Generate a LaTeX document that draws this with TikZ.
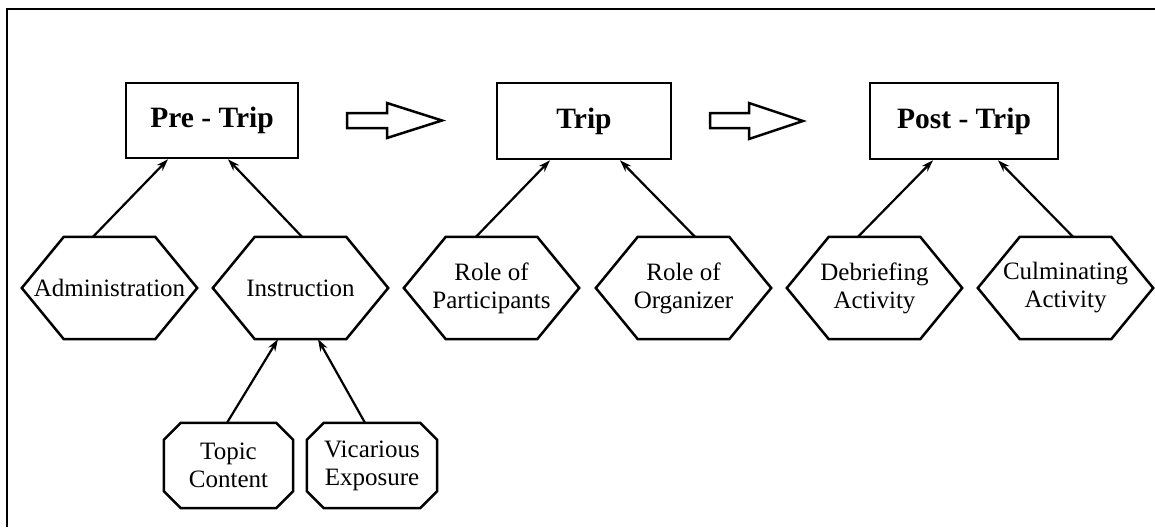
\documentclass[tikz,border=0pt]{standalone}
\usepackage{fontspec}
\setmainfont{Liberation Serif}
\usetikzlibrary{arrows.meta,calc}
\begin{document}
\begin{tikzpicture}[x=1pt,y=-1pt,
  titlebox/.style={draw, line width=2.6pt, inner sep=0pt, font=\fontsize{29.5}{32}\selectfont\bfseries},
  hexnode/.style={inner sep=0pt, minimum width=175pt, minimum height=102pt, align=center, font=\fontsize{25}{28}\selectfont},
  octnode/.style={inner sep=0pt, minimum width=129pt, minimum height=85pt, align=center, font=\fontsize{25}{28}\selectfont},
  shapeline/.style={line width=2.5pt, line join=miter},
  conn/.style={line width=2.2pt, -{Stealth[length=12pt,width=8pt]}},
  blockarrow/.style={line width=2.5pt, line join=miter},
  frameline/.style={line width=2pt}
]
\useasboundingbox (0,0) rectangle (1155,527);
% frame
\draw[frameline] (1155,9.5) -- (7,9.5) -- (7,527);

% title boxes
\node[titlebox, minimum width=172pt, minimum height=75pt] (pre) at (212,120.5) {Pre - Trip};
\node[titlebox, minimum width=174pt, minimum height=76pt] (trip) at (584,121) {Trip};
\node[titlebox, minimum width=188pt, minimum height=76pt] (post) at (964,121) {Post - Trip};

% block arrows
\draw[blockarrow] (347,113) -- (387,113) -- (387,103) -- (442,120.5) -- (387,138) -- (387,128) -- (347,128) -- cycle;
\draw[blockarrow] (710,113) -- (749,113) -- (749,103) -- (803,121) -- (749,139) -- (749,128) -- (710,128) -- cycle;

% hexagon nodes
\node[hexnode] (adm) at (109.5,288) {Administration};
\node[hexnode] (ins) at (300.5,288) {Instruction};
\node[hexnode] (par) at (491.5,288) {\raisebox{-3pt}{\parbox{175pt}{\centering Role of\\Participants}}};
\node[hexnode] (org) at (683.5,288) {\raisebox{-3pt}{\parbox{175pt}{\centering Role of\\Organizer}}};
\node[hexnode] (deb) at (874.5,288) {\raisebox{-3pt}{\parbox{175pt}{\centering Debriefing\\Activity}}};
\node[hexnode] (cul) at (1065.5,288) {\raisebox{-3pt}{\parbox{175pt}{\centering Culminating\\Activity}}};
\foreach \n in {adm,ins,par,org,deb,cul}{
  \draw[shapeline] (\n.west) -- ([xshift=42pt]\n.north west) -- ([xshift=-42pt]\n.north east)
    -- (\n.east) -- ([xshift=-42pt]\n.south east) -- ([xshift=42pt]\n.south west) -- cycle;
}

% octagon nodes
\node[octnode] (top) at (228.5,465.5) {Topic\\Content};
\node[octnode, minimum width=130pt] (vic) at (372,465.5) {Vicarious\\Exposure};
\foreach \n in {top,vic}{
  \draw[shapeline] ([xshift=17pt]\n.north west) -- ([xshift=-17pt]\n.north east)
    -- ([yshift=-17pt]\n.north east) -- ([yshift=17pt]\n.south east)
    -- ([xshift=-17pt]\n.south east) -- ([xshift=17pt]\n.south west)
    -- ([yshift=17pt]\n.south west) -- ([yshift=-17pt]\n.north west) -- cycle;
}

% connectors
\draw[conn] ([xshift=-16.5pt]adm.north) -- ([xshift=-44pt]pre.south);
\draw[conn] ([xshift=1.5pt]ins.north) -- ([xshift=16pt]pre.south);
\draw[conn] ([xshift=-15.5pt]par.north) -- ([xshift=-34pt]trip.south);
\draw[conn] ([xshift=11.5pt]org.north) -- ([xshift=36pt]trip.south);
\draw[conn] ([xshift=-16.5pt]deb.north) -- ([xshift=-31pt]post.south);
\draw[conn] ([xshift=7.5pt]cul.north) -- ([xshift=34pt]post.south);
\draw[conn] ([xshift=-1.5pt]top.north) -- ([xshift=-22.5pt]ins.south);
\draw[conn] ([xshift=-7pt]vic.north) -- ([xshift=17.5pt]ins.south);
\end{tikzpicture}
\end{document}
